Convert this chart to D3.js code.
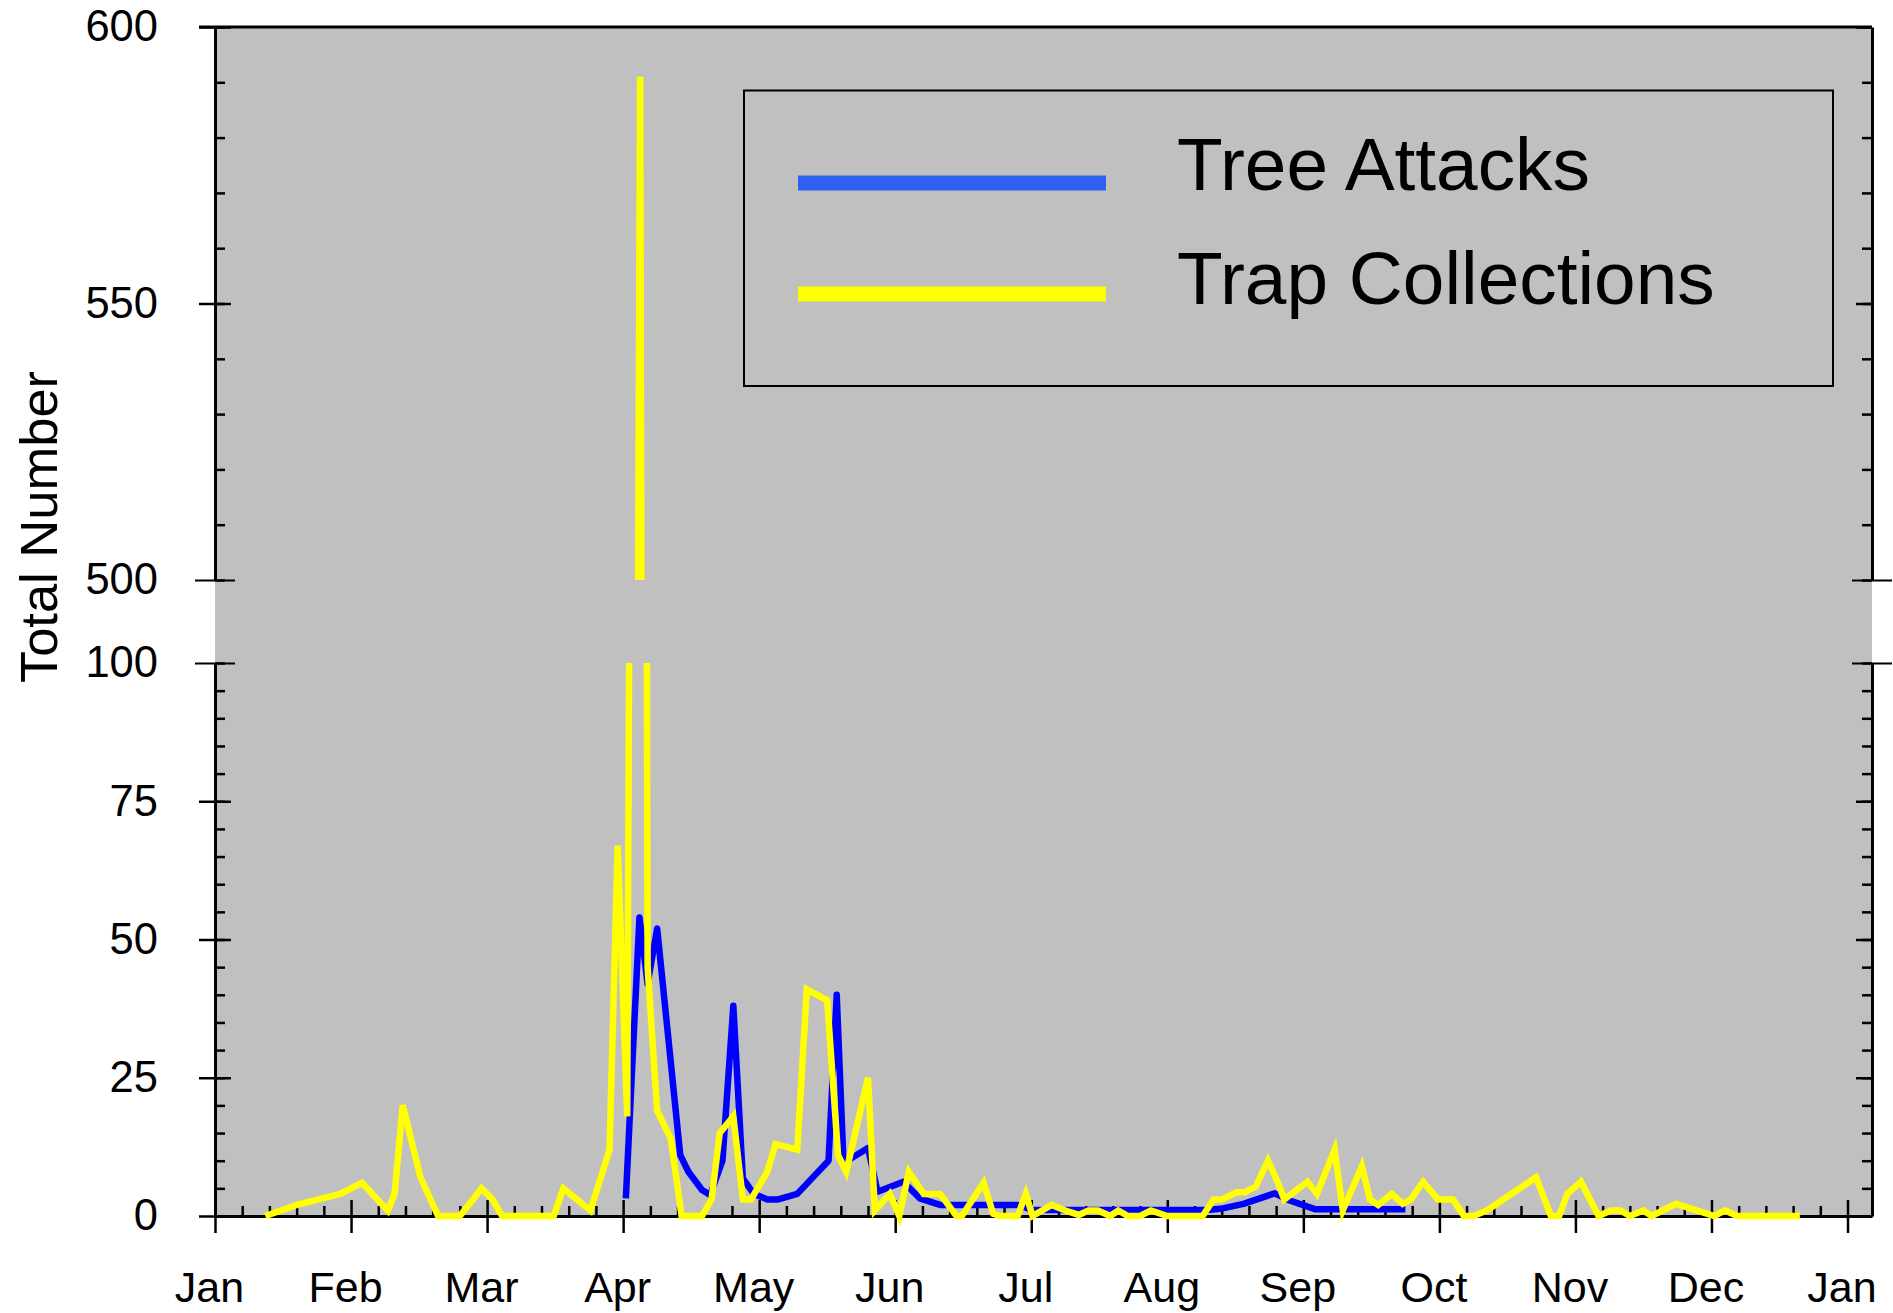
<!DOCTYPE html>
<html>
<head>
<meta charset="utf-8">
<script src="https://cdn.jsdelivr.net/npm/d3@7"></script>
<style>
  html, body { margin: 0; padding: 0; background: #ffffff; }
  svg { display: block; }
  text { font-family: "Liberation Sans", Arial, Helvetica, sans-serif; fill: #000; }
</style>
</head>
<body>
<svg id="chart" width="1893" height="1313"></svg>
<script>
// Month labels for the time axis (position 0 = 1 Jan, 12 = 1 Jan next year)
const monthLabels = ["Jan", "Feb", "Mar", "Apr", "May", "Jun", "Jul", "Aug", "Sep", "Oct", "Nov", "Dec", "Jan"];

// Trap Collections: sampling time (months since 1 Jan) and count
const trapMonth = [0.37, 0.60, 0.92, 1.08, 1.27, 1.32, 1.38, 1.51, 1.64, 1.80, 1.96, 2.04, 2.11, 2.49, 2.56,
  2.76, 2.90, 2.96, 3.03, 3.125, 3.18, 3.25, 3.35, 3.43, 3.58, 3.65, 3.71, 3.81, 3.88, 3.94, 4.06, 4.12,
  4.28, 4.35, 4.50, 4.58, 4.64, 4.80, 4.85, 4.96, 5.03, 5.10, 5.21, 5.33, 5.45, 5.49, 5.65, 5.72, 5.77,
  5.90, 5.96, 6.01, 6.15, 6.25, 6.35, 6.42, 6.49, 6.58, 6.64, 6.71, 6.80, 6.88, 7.00, 7.26, 7.34, 7.40,
  7.51, 7.57, 7.65, 7.74, 7.81, 7.86, 8.03, 8.10, 8.23, 8.29, 8.43, 8.49, 8.55, 8.65, 8.73, 8.79, 8.88,
  8.99, 9.10, 9.18, 9.25, 9.35, 9.71, 9.82, 9.88, 9.94, 10.04, 10.17, 10.26, 10.33, 10.40, 10.50, 10.56,
  10.74, 11.02, 11.10, 11.19, 11.65];
const trapCount = [0, 2, 4, 6, 1, 4, 20, 7, 0, 0, 5, 3, 0, 0, 5,
  1, 12, 67, 18, 591, 45, 19, 14, 0, 0, 3, 15, 18, 3, 3, 8, 13,
  12, 41, 39, 11, 8, 25, 1, 4, 0, 8, 4, 4, 0, 0, 6, 0.4, 0,
  0, 4, 0, 2, 1, 0.2, 1, 1, 0, 1, 0, 0, 1, 0, 0, 3, 3,
  4.3, 4.3, 5.3, 10, 6.2, 3, 6.2, 4, 12, 1, 9, 3, 2, 4, 2.2, 3, 6.2,
  3, 3, 0, 0, 1, 7, 0, 0, 4, 6.2, 0, 1, 1, 0, 1, 0,
  2.2, 0, 1, 0, 0];

// Tree Attacks: observation time (months since 1 Jan) and count
const attackMonth = [3.02, 3.12, 3.18, 3.25, 3.42, 3.48, 3.58, 3.64, 3.73, 3.81, 3.88, 3.96, 4.06, 4.14,
  4.28, 4.51, 4.57, 4.62, 4.80, 4.87, 5.06, 5.18, 5.33, 5.90, 6.01, 7.29, 7.39, 7.56, 7.68, 7.79, 7.90,
  8.09, 8.75];
const attackCount = [3.2, 54, 42, 52, 11, 8, 4.7, 3.8, 10, 38, 6.8, 4, 3, 3,
  4, 10, 40, 9.6, 12.3, 4.4, 6.2, 3.2, 2, 2, 1.1, 1.1, 1.3, 2.2, 3.2, 4.1, 2.8,
  1.2, 1.2];

// Broken value axis: lower segment and upper segment
const lowerTicks = [0, 25, 50, 75, 100];
const upperTicks = [500, 550, 600];

const seriesNames = ["Tree Attacks", "Trap Collections"];

// ---------------------------------------------------------------------------
const svg = d3.select("#chart");
const L = 215, R = 1872, T = 27, B = 1216;
const upperBottom = 580, lowerTop = 663;

const x = d3.scaleLinear().domain([0, 12.18]).range([L, R]);
const yLow = d3.scaleLinear().domain([0, 100]).range([B, lowerTop]);
const yHigh = d3.scaleLinear().domain([500, 600]).range([upperBottom, T]);

// plot background
svg.append("rect").attr("x", L).attr("y", T).attr("width", R - L).attr("height", B - T)
  .attr("fill", "#c0c0c0");

const axisW = 3, tickW = 2.5;
const labelFont = "'Liberation Sans', Arial, sans-serif";

function styleAxis(g) {
  g.select(".domain").attr("stroke", "#000").attr("stroke-width", axisW);
  g.selectAll(".tick line").attr("stroke", "#000").attr("stroke-width", tickW);
}

// left axes (lower and upper segment)
function leftAxis(scale, majors, minorStep, breakVal) {
  const [d0, d1] = scale.domain();
  const gMinor = svg.append("g").attr("transform", `translate(${L},0)`)
    .call(d3.axisLeft(scale).tickValues(d3.range(d0, d1 + 0.001, minorStep)).tickSize(-10).tickSizeOuter(0).tickFormat(""));
  styleAxis(gMinor);
  gMinor.select(".domain").remove();
  const g = svg.append("g").attr("transform", `translate(${L},0)`)
    .call(d3.axisLeft(scale).tickValues(majors).tickSize(16).tickSizeOuter(0).tickFormat(d3.format("d")));
  styleAxis(g);
  g.selectAll(".tick line").attr("x1", d => d === breakVal ? 20 : 16).attr("x2", d => d === breakVal ? -20 : -16)
    .attr("stroke-width", d => d === breakVal ? 2 : tickW);
  g.selectAll(".tick text").attr("x", -57).attr("font-size", 43.5).style("font-family", labelFont);
}
leftAxis(yLow, lowerTicks, 5, 100);
leftAxis(yHigh, upperTicks, 10, 500);

// right axes (ticks inside only)
function rightAxis(scale, majors, minorStep, breakVal) {
  const [d0, d1] = scale.domain();
  const gMinor = svg.append("g").attr("transform", `translate(${R},0)`)
    .call(d3.axisRight(scale).tickValues(d3.range(d0, d1 + 0.001, minorStep)).tickSize(-10).tickSizeOuter(0).tickFormat(""));
  styleAxis(gMinor);
  gMinor.select(".domain").remove();
  const g = svg.append("g").attr("transform", `translate(${R},0)`)
    .call(d3.axisRight(scale).tickValues(majors).tickSize(-16).tickSizeOuter(0).tickFormat(""));
  styleAxis(g);
  g.selectAll(".tick line").attr("x1", d => d === breakVal ? 20 : 0).attr("x2", d => d === breakVal ? -20 : -16)
    .attr("stroke-width", d => d === breakVal ? 2 : tickW);
}
rightAxis(yLow, lowerTicks, 5, 100);
rightAxis(yHigh, upperTicks, 10, 500);

// top frame line
svg.append("line").attr("x1", L - 16).attr("x2", R).attr("y1", T).attr("y2", T)
  .attr("stroke", "#000").attr("stroke-width", axisW);

// bottom time axis
const minorMonths = d3.range(0, 12.19, 0.2).filter(d => Math.abs(d - Math.round(d)) > 0.01);
const gxMinor = svg.append("g").attr("transform", `translate(0,${B})`)
  .call(d3.axisBottom(x).tickValues(minorMonths).tickSize(-10).tickSizeOuter(0).tickFormat(""));
styleAxis(gxMinor);
gxMinor.select(".domain").remove();
const gx = svg.append("g").attr("transform", `translate(0,${B})`)
  .call(d3.axisBottom(x).tickValues(d3.range(0, 13)).tickSize(17).tickSizeOuter(0).tickFormat(i => monthLabels[i]));
styleAxis(gx);
gx.selectAll(".tick line").attr("y1", -16);
gx.selectAll(".tick text").attr("y", 55).attr("dx", -6).attr("font-size", 43).style("font-family", labelFont);

// value axis title
svg.append("text").attr("transform", "translate(57,527) rotate(-90)")
  .attr("text-anchor", "middle").attr("font-size", 52.5).text("Total Number");

// clip regions for the two axis segments
const defs = svg.append("defs");
defs.append("clipPath").attr("id", "clipLow").append("rect")
  .attr("x", L - 10).attr("y", lowerTop).attr("width", R - L + 20).attr("height", 1313 - lowerTop);
defs.append("clipPath").attr("id", "clipHigh").append("rect")
  .attr("x", L - 10).attr("y", 0).attr("width", R - L + 20).attr("height", upperBottom);

const attacks = attackMonth.map((m, i) => ({ m, v: attackCount[i] }));
const traps = trapMonth.map((m, i) => ({ m, v: trapCount[i] }));

function drawSeries(data, color, join) {
  [[yLow, "clipLow"], [yHigh, "clipHigh"]].forEach(([ys, clip]) => {
    svg.append("path").datum(data)
      .attr("clip-path", `url(#${clip})`)
      .attr("fill", "none").attr("stroke", color).attr("stroke-width", 6.5)
      .attr("stroke-linejoin", join)
      .attr("d", d3.line().x(d => x(d.m)).y(d => ys(d.v)));
  });
}
drawSeries(attacks, "#0000ff", "round");
drawSeries(traps, "#ffff00", "miter");

// legend
const legend = svg.append("g");
legend.append("rect").attr("x", 744).attr("y", 90.5).attr("width", 1089).attr("height", 295.5)
  .attr("fill", "none").attr("stroke", "#000").attr("stroke-width", 2);
const legendColors = ["#3060f0", "#ffff00"];
const legendLineY = [183, 294];
const legendTextY = [189.5, 304];
seriesNames.forEach((name, i) => {
  legend.append("line").attr("x1", 798).attr("x2", 1106).attr("y1", legendLineY[i]).attr("y2", legendLineY[i])
    .attr("stroke", legendColors[i]).attr("stroke-width", 15);
  legend.append("text").attr("x", 1177).attr("y", legendTextY[i]).attr("font-size", 74.8).text(name);
});
</script>
</body>
</html>
